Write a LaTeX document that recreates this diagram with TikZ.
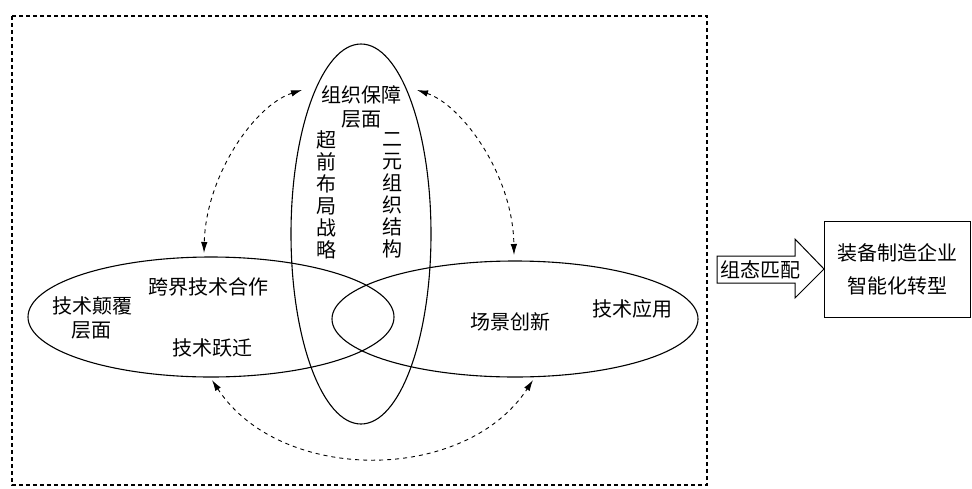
\documentclass[tikz,border=0pt]{standalone}
\usepackage{fontspec}
\setmainfont{Noto Sans CJK SC}
\usetikzlibrary{shapes.geometric,arrows.meta}
\begin{document}
\begin{tikzpicture}[x=1pt,y=-1pt,
  level/.style={ellipse, draw, line width=1.1pt, inner sep=0pt},
  txt/.style={font=\fontsize{20}{24}\selectfont, align=center, inner sep=0pt},
  col/.style={font=\fontsize{20}{22}\selectfont, align=center, inner sep=0pt},
  link/.style={line width=0.9pt, dash pattern=on 4pt off 4pt, {Latex[length=11pt,width=6.5pt]}-{Latex[length=11pt,width=6.5pt]}}]
\useasboundingbox (0,0) rectangle (972,488);
\draw[line width=1.4pt, dash pattern=on 4pt off 3pt] (12,16) rectangle (707,485);
% three levels
\node[level, minimum width=140pt, minimum height=380pt] (org) at (361,234){};
\node[level, minimum width=366pt, minimum height=120pt] (tech) at (211,317){};
\node[level, minimum width=366pt, minimum height=116pt] (scene) at (515,319){};
% texts
\node[txt] (orgname) at (361,107){组织保障\\层面};
\node[col] (strategy) at (326,195){超\\前\\布\\局\\战\\略};
\node[col] (struct) at (392,195){二\\元\\组\\织\\结\\构};
\node[txt] (techname) at (92,318){技术颠覆\\层面};
\node[txt] (coop) at (208,287){跨界技术合作};
\node[txt] (leap) at (212,348){技术跃迁};
\node[txt] (apply) at (632,309){技术应用};
\node[txt] (newscene) at (510,322){场景创新};
% interactions
\coordinate (a1) at (302,90);
\coordinate (a2) at (204,253);
\coordinate (b1) at (417,90);
\coordinate (b2) at (514,255);
\coordinate (c1) at (212,380);
\coordinate (c2) at (533,380);
\draw[link] (a1) .. controls (255,105) and (206,175) .. (a2);
\draw[link] (b1) .. controls (462,105) and (513,175) .. (b2);
\draw[link] (c1) .. controls (280,484) and (465,484) .. (c2);
% configuration match
\draw[line width=1pt] (717,256) -- (795,256) -- (795,239) -- (824,269) -- (795,298) -- (795,283) -- (717,283) -- cycle;
\node[txt] (match) at (760,270){组态匹配};
\node[txt, draw, line width=1pt, minimum width=146pt, minimum height=96pt,
  font=\fontsize{20}{33}\selectfont] (goal) at (897,269){装备制造企业\\智能化转型};
\end{tikzpicture}
\end{document}
